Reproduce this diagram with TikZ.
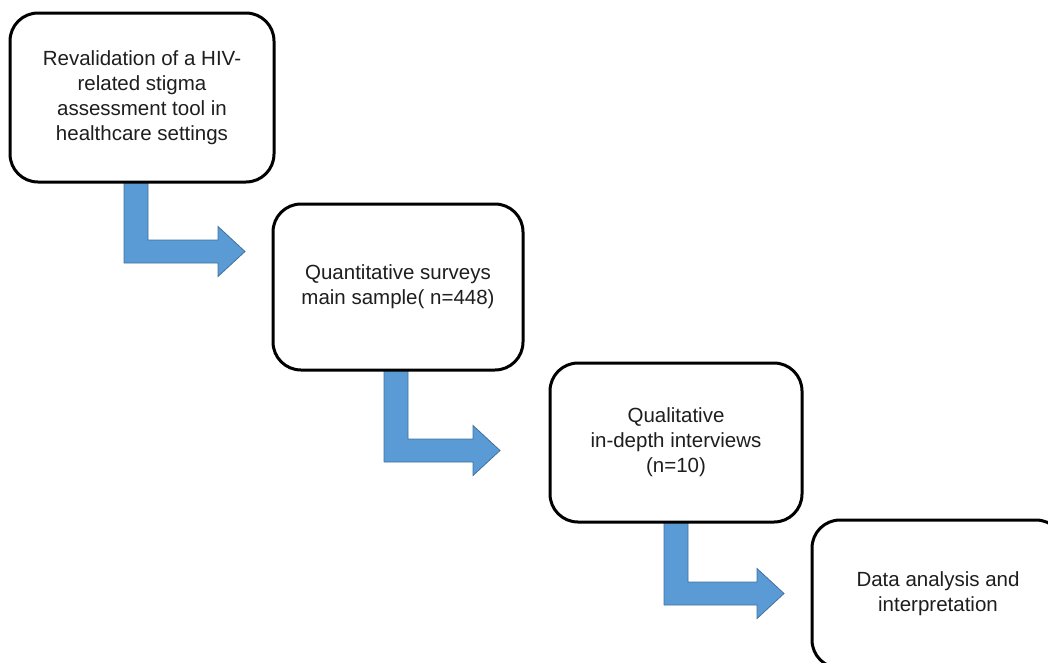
\documentclass[tikz,border=0pt]{standalone}
\usepackage{fontspec}
\setmainfont{Liberation Sans}
\definecolor{arrowblue}{HTML}{5B9BD5}
\definecolor{arrowedge}{HTML}{41719C}
\definecolor{txt}{HTML}{1E1E1E}
\newcommand\bentarrow[4]{%
  \draw[arrowsty] (#1,#2) -- ++(24,0) |- ({#4},{#3-23}) -- ({#4},{#3-11.5-25}) -- ({#4+27},{#3-11.5}) -- ({#4},{#3-11.5+25}) -- ({#4},#3) -- (#1,#3) -- cycle;}
\tikzset{
  stagebox/.style={draw=black, line width=3pt, rounded corners=28pt, fill=white,
    align=center, font=\fontsize{20.5}{25}\selectfont, text=txt, inner sep=0pt},
  arrowsty/.style={fill=arrowblue, draw=arrowedge, line width=0.8pt}
}
\begin{document}
\begin{tikzpicture}[x=1pt,y=-1pt]
\useasboundingbox (0,0) rectangle (1048,662);
\clip (0,0) rectangle (1048,662);
% arrows (behind boxes)
\bentarrow{124}{175}{263}{218}
\bentarrow{384}{362}{462}{473}
\bentarrow{664}{515}{605}{757}
% boxes
\node[stagebox, minimum width=264pt, minimum height=169pt] (b1) at (142,97.5)
  {Revalidation of a HIV-\\related stigma\\assessment tool in\\healthcare settings};
\node[stagebox, minimum width=250pt, minimum height=166pt] (b2) at (398,287)
  {Quantitative surveys\\main sample( n=448)};
\node[stagebox, minimum width=252pt, minimum height=159pt] (b3) at (676,442.5)
  {Qualitative\\in-depth interviews\\(n=10)};
\node[stagebox, minimum width=252pt, minimum height=148pt] (b4) at (938,594)
  {Data analysis and\\interpretation};
\end{tikzpicture}
\end{document}
